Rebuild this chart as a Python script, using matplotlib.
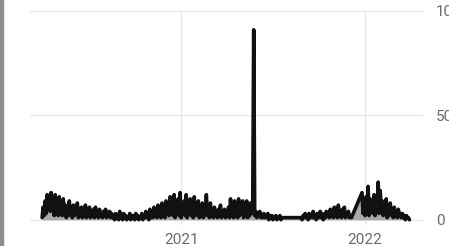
import matplotlib
matplotlib.use("Agg")
import matplotlib.pyplot as plt
import pandas as pd
from matplotlib.patches import Rectangle

# ---- data ----
start_a = "2020-03-31"
values_a = [
    1, 6, 2, 9, 3, 12, 5, 8, 4, 13,
    6, 10, 2, 12, 4, 7, 2, 11, 3, 6,
    2, 10, 4, 7, 1, 5, 2, 9, 3, 6,
    1, 7, 2, 4, 3, 8, 1, 4, 2, 6,
    1, 5, 2, 7, 1, 3, 2, 6, 1, 3,
    2, 5, 1, 6, 2, 4, 1, 5, 2, 3,
    1, 4, 2, 5, 1, 3, 2, 4, 1, 3,
    1, 2, 0, 3, 1, 2, 0, 4, 1, 2,
    0, 3, 1, 2, 0, 1, 1, 3, 0, 2,
    1, 2, 0, 3, 1, 2, 0, 1, 1, 3,
    0, 2, 1, 4, 1, 3, 0, 5, 1, 4,
    1, 6, 2, 4, 1, 7, 2, 5, 1, 8,
    2, 6, 1, 9, 3, 7, 2, 11, 3, 8,
    2, 12, 1, 7, 3, 10, 2, 13, 1, 6,
    3, 9, 2, 12, 1, 5, 3, 10, 2, 7,
    1, 11, 2, 6, 3, 9, 1, 4, 2, 8,
    1, 6, 2, 12, 3, 5, 1, 8, 2, 4,
    1, 6, 2, 3, 1, 5, 2, 7, 1, 4,
    2, 5, 1, 3, 2, 6, 1, 10, 2, 4,
    1, 9, 2, 5, 1, 10, 2, 6, 3, 9,
    1, 7, 2, 9, 1, 5, 2, 8, 3, 6,
    91,
    2, 4, 1, 3, 2, 4, 1, 2, 1, 3,
    1, 2, 1, 3, 0, 2, 1, 2, 0, 1,
    1, 2, 0, 1, 1, 2, 0, 1, 1, 1,
    1, 1, 1, 1, 1, 1, 1, 1, 1, 1,
    1, 1, 1, 1, 1, 1, 1, 0, 2, 1,
    3, 1, 2, 0, 3, 1, 2, 1, 4, 1,
    2, 0, 3, 1, 2, 4, 1, 3, 0, 2,
    1, 4, 2, 3, 1, 5, 2, 3, 1, 6,
    2, 4, 1, 7, 2, 3, 1, 5, 2, 6,
    1, 3, 2, 4, 1, 2, 1,
]
start_b = "2021-12-26"
values_b = [
    13, 3, 9, 2, 11, 4, 16, 2, 10, 5,
    8, 3, 12, 2, 9, 4, 18, 3, 14, 6,
    9, 2, 7, 3, 10, 1, 6, 2, 8, 3,
    5, 1, 6, 2, 4, 1, 5, 2, 3, 1,
    3, 1, 2, 0, 2, 1, 1, 0,
]
step = "2D"
y_ticks = [0, 50, 100]
x_ticks = ["2021-01-01", "2022-01-01"]
x_tick_labels = ["2021", "2022"]

dates = list(pd.date_range(start_a, periods=len(values_a), freq=step)) + \
        list(pd.date_range(start_b, periods=len(values_b), freq=step))
values = values_a + values_b

# ---- figure ----
W, H = 449, 246
fig = plt.figure(figsize=(W / 100, H / 100), dpi=100)
fig.patch.set_facecolor("white")

left, right = 30, 423
top_px, bottom_px = 11, 226
ax = fig.add_axes([left / W, 1 - bottom_px / H, (right - left) / W, (bottom_px - top_px) / H])

ax.fill_between(dates, values, 0, color="#a9a9a9", lw=0, zorder=2)
ax.plot(dates, values, color="#111111", lw=2.6, solid_joinstyle="round",
        solid_capstyle="round", zorder=3)

ax.set_ylim(-3, 100)
ax.set_xlim(pd.Timestamp("2020-03-07"), pd.Timestamp("2022-04-26"))

ax.set_yticks(y_ticks)
ax.set_yticklabels([str(v) for v in y_ticks])
ax.set_xticks([pd.Timestamp(t) for t in x_ticks])
ax.set_xticklabels(x_tick_labels)

ax.yaxis.tick_right()
ax.tick_params(axis="both", length=0, colors="#6a6a6a", labelsize=11)
ax.tick_params(axis="y", pad=9.5)
ax.tick_params(axis="x", pad=5)
for lab in ax.get_xticklabels() + ax.get_yticklabels():
    lab.set_fontfamily("Roboto")
    lab.set_color("#6a6a6a")
for lab in ax.get_yticklabels():
    lab.set_horizontalalignment("left")

ax.grid(True, color="#e6e6e6", lw=0.8, zorder=0)
ax.set_axisbelow(True)
for s in ax.spines.values():
    s.set_visible(False)
ax.set_facecolor("white")

fig.patches.append(Rectangle((0, 0), 3 / W, 1, transform=fig.transFigure,
                             color="#8c8c8c", zorder=5))

fig.savefig("out.png", dpi=100)
